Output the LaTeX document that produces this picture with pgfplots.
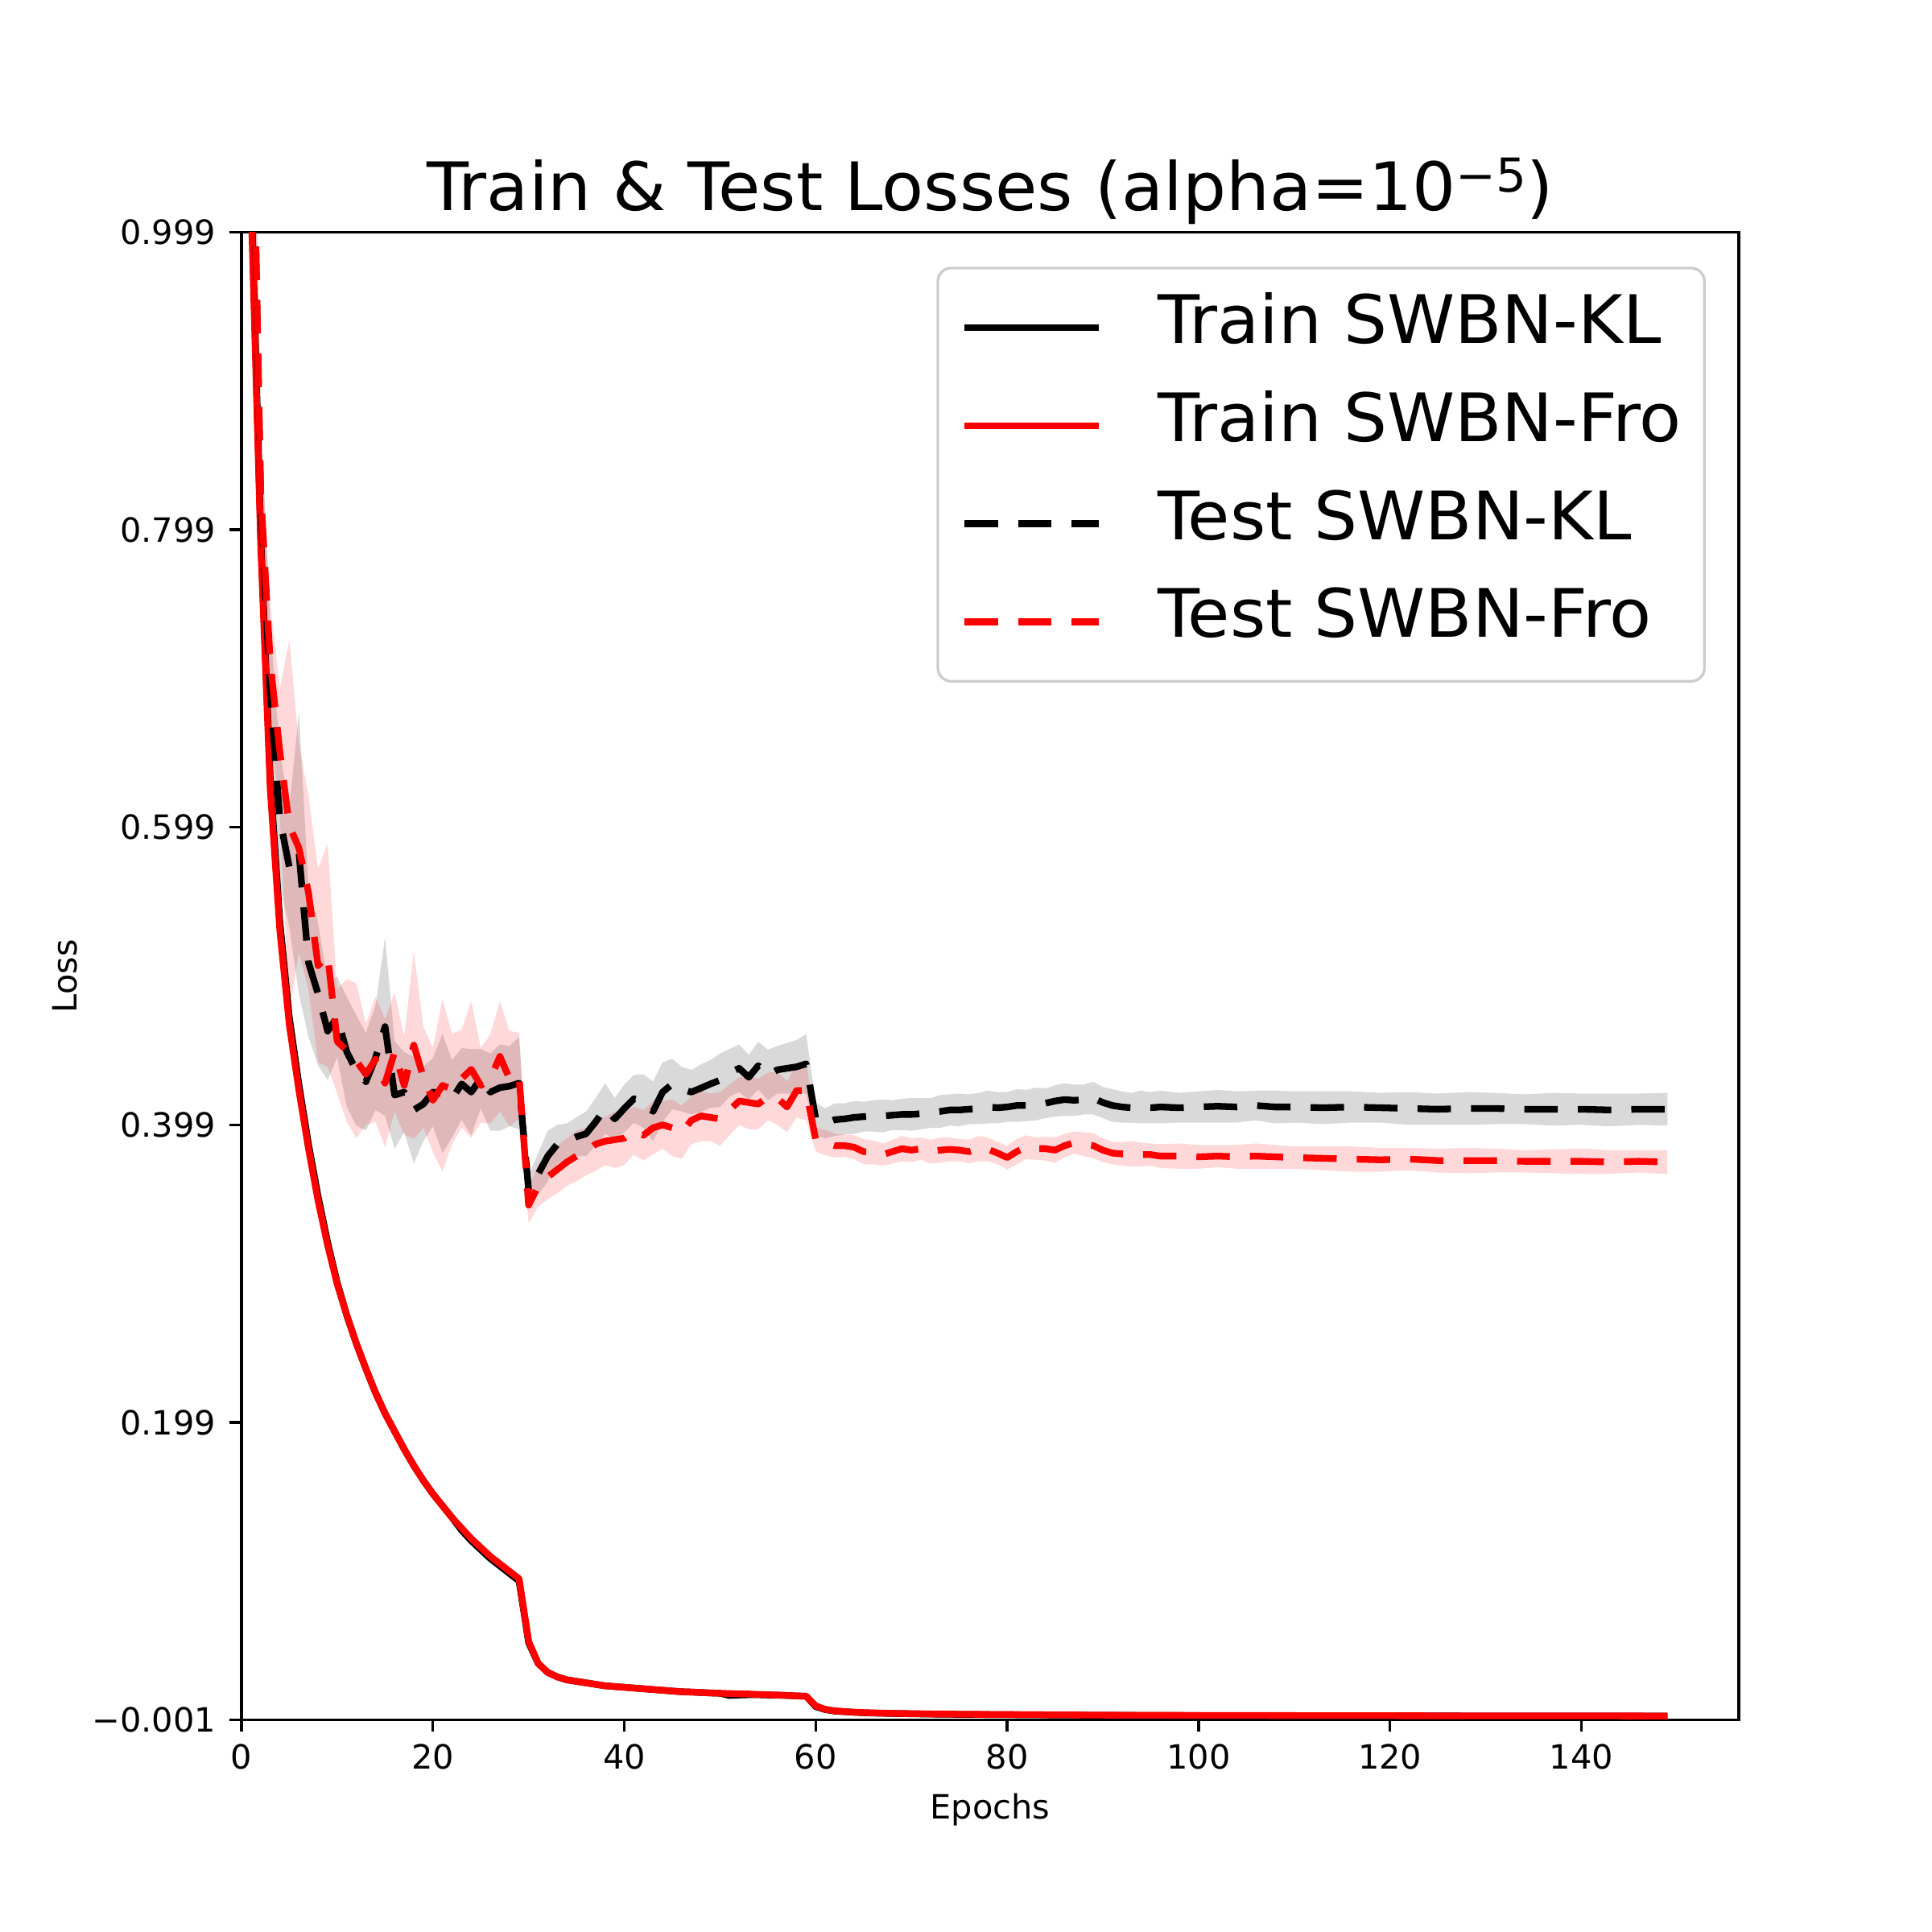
\documentclass[border=0pt]{standalone}
\usepackage{fontspec}
\setmainfont[FakeStretch=1.025]{DejaVu Sans}
\newfontfamily\tickfont{DejaVu Sans}
\usepackage{pgfplots}
\pgfplotsset{compat=1.18}
\usepackage{pgfplotstable}
\usepgfplotslibrary{fillbetween}
\definecolor{lgray}{RGB}{204,204,204}

\pgfplotstableread{
x y
0 1.60
1 1.02
2 0.79
3 0.625
4 0.53
5 0.466
6 0.422
7 0.383
8 0.348
9 0.318
10 0.292
11 0.271
12 0.252
13 0.235
14 0.219
15 0.205
16 0.193
17 0.181
18 0.170
19 0.160
20 0.151
21 0.143
22 0.135
23 0.128
24 0.121
25 0.115
26 0.109
27 0.104
28 0.099
29 0.094
30 0.052
31 0.037
32 0.031
33 0.028
34 0.026
35 0.025
36 0.024
37 0.023
38 0.022
39 0.0215
40 0.021
41 0.0205
42 0.020
43 0.0195
44 0.019
45 0.0185
46 0.018
47 0.0178
48 0.0175
49 0.0172
50 0.017
51 0.0168
52 0.0166
53 0.0165
54 0.0162
55 0.016
56 0.0158
57 0.0155
58 0.0152
59 0.015
60 0.0085
61 0.0062
62 0.0052
63 0.0047
64 0.0043
65 0.004
66 0.0038
68 0.0035
70 0.0033
72 0.0031
75 0.0029
80 0.0027
85 0.0025
90 0.0023
100 0.0021
110 0.002
120 0.0019
130 0.0018
140 0.0018
149 0.0017
}\trainfro

\pgfplotstableread{
x y
0 1.60
1 1.03
2 0.797
3 0.632
4 0.536
5 0.471
6 0.426
7 0.386
8 0.351
9 0.320
10 0.293
11 0.271
12 0.252
13 0.235
14 0.219
15 0.205
16 0.193
17 0.181
18 0.170
19 0.160
20 0.151
21 0.143
22 0.135
23 0.1265
24 0.1195
25 0.1135
26 0.1075
27 0.1025
28 0.0975
29 0.0925
30 0.051
31 0.037
32 0.031
33 0.028
34 0.026
35 0.025
36 0.024
37 0.023
38 0.022
39 0.0215
40 0.021
41 0.0205
42 0.020
43 0.0195
44 0.019
45 0.0185
46 0.018
47 0.0178
48 0.0175
49 0.0172
50 0.017
51 0.0155
52 0.0158
53 0.0160
54 0.0160
55 0.0158
56 0.0157
57 0.0155
58 0.0152
59 0.015
60 0.0080
61 0.0060
62 0.0050
63 0.0046
64 0.0042
65 0.0039
66 0.0037
68 0.0034
70 0.0032
72 0.0030
75 0.0028
80 0.0026
85 0.0024
90 0.0022
100 0.0020
110 0.0019
120 0.0018
130 0.0017
140 0.0017
149 0.0016
}\trainkl

\pgfplotstableread{
x m s
0 1.60 0.08
1 1.15 0.06
2 0.82 0.06
3 0.69 0.045
4 0.605 0.045
5 0.572 0.04
6 0.582 0.095
7 0.508 0.05
8 0.487 0.048
9 0.462 0.033
10 0.4715 0.027
11 0.448 0.037
12 0.4355 0.037
13 0.428 0.033
14 0.444 0.035
15 0.465 0.06
16 0.419 0.036
17 0.421 0.027
18 0.409 0.036
19 0.413 0.025
20 0.421 0.023
21 0.420 0.04
22 0.4165 0.026
23 0.4265 0.024
24 0.421 0.029
25 0.430 0.02
26 0.421 0.026
27 0.424 0.029
28 0.425 0.027
29 0.427 0.031
30 0.355 0.010
31 0.366 0.014
32 0.378 0.017
33 0.386 0.013
34 0.388 0.012
35 0.391 0.013
36 0.393 0.015
37 0.401 0.016
38 0.410 0.017
39 0.403 0.014
40 0.410 0.016
41 0.4165 0.016
42 0.415 0.018
43 0.408 0.020
44 0.421 0.020
45 0.4264 0.017
46 0.423 0.015
47 0.421 0.015
48 0.4237 0.016
49 0.4265 0.016
50 0.429 0.018
51 0.434 0.016
52 0.437 0.016
53 0.431 0.015
54 0.4388 0.016
55 0.4325 0.017
56 0.436 0.016
57 0.437 0.017
58 0.438 0.018
59 0.440 0.020
60 0.403 0.011
61 0.400 0.010
62 0.4025 0.011
63 0.403 0.0105
64 0.404 0.011
65 0.4045 0.010
66 0.405 0.0105
67 0.405 0.011
68 0.4055 0.010
69 0.406 0.0105
70 0.406 0.011
71 0.4065 0.0105
72 0.407 0.010
73 0.408 0.011
74 0.409 0.0105
75 0.409 0.011
76 0.4095 0.010
77 0.410 0.0105
78 0.411 0.011
79 0.4105 0.0105
80 0.411 0.010
81 0.412 0.011
82 0.412 0.0105
83 0.413 0.011
84 0.4135 0.010
85 0.415 0.0105
86 0.416 0.011
87 0.4155 0.0105
88 0.416 0.010
89 0.417 0.011
90 0.414 0.0105
91 0.412 0.011
92 0.411 0.0105
93 0.4105 0.010
94 0.411 0.011
95 0.4105 0.0105
96 0.411 0.011
98 0.4105 0.010
100 0.411 0.0105
102 0.4115 0.011
104 0.411 0.0105
106 0.412 0.010
108 0.411 0.011
110 0.411 0.0105
113 0.4105 0.011
116 0.411 0.0105
119 0.4105 0.010
122 0.410 0.011
125 0.4095 0.0105
128 0.410 0.011
131 0.410 0.0105
134 0.4095 0.010
137 0.4095 0.011
140 0.4095 0.0105
143 0.409 0.011
146 0.4095 0.0105
149 0.4095 0.011
}\testkl

\pgfplotstableread{
x m s
0 1.60 0.08
1 1.16 0.05
2 0.825 0.04
3 0.71 0.04
4 0.65 0.042
5 0.60 0.125
6 0.585 0.07
7 0.555 0.065
8 0.506 0.065
9 0.513 0.075
10 0.455 0.035
11 0.449 0.048
12 0.442 0.052
13 0.433 0.034
14 0.443 0.042
15 0.427 0.043
16 0.448 0.040
17 0.4255 0.033
18 0.4526 0.063
19 0.431 0.034
20 0.4156 0.035
21 0.4255 0.058
22 0.423 0.037
23 0.430 0.033
24 0.4363 0.046
25 0.4255 0.025
26 0.430 0.030
27 0.445 0.037
28 0.430 0.032
29 0.432 0.029
30 0.345 0.012
31 0.358 0.014
32 0.364 0.015
33 0.369 0.016
34 0.374 0.016
35 0.378 0.017
36 0.381 0.016
37 0.386 0.018
38 0.388 0.016
39 0.389 0.019
40 0.390 0.018
41 0.395 0.016
42 0.392 0.017
43 0.397 0.018
44 0.399 0.016
45 0.397 0.019
46 0.394 0.018
47 0.402 0.016
48 0.405 0.017
49 0.404 0.016
50 0.403 0.018
51 0.409 0.017
52 0.415 0.016
53 0.414 0.018
54 0.413 0.017
55 0.418 0.016
56 0.417 0.018
57 0.411 0.017
58 0.422 0.018
59 0.422 0.020
60 0.389 0.008
61 0.387 0.0085
62 0.385 0.008
63 0.385 0.0075
64 0.384 0.008
65 0.381 0.0085
66 0.3805 0.008
67 0.379 0.0075
68 0.381 0.008
69 0.383 0.0085
70 0.382 0.008
71 0.383 0.0075
72 0.381 0.008
73 0.382 0.0085
74 0.3825 0.008
75 0.382 0.0075
76 0.381 0.008
77 0.383 0.0085
78 0.3825 0.008
79 0.380 0.0075
80 0.377 0.008
81 0.381 0.0085
82 0.384 0.008
83 0.383 0.0075
84 0.383 0.008
85 0.382 0.0085
86 0.385 0.008
87 0.387 0.0075
88 0.386 0.008
89 0.385 0.0085
90 0.382 0.008
91 0.380 0.0075
92 0.3795 0.008
93 0.3795 0.0085
94 0.379 0.008
95 0.379 0.0075
96 0.378 0.008
98 0.378 0.0085
100 0.3775 0.008
102 0.378 0.0075
104 0.3775 0.008
106 0.378 0.0085
108 0.3775 0.008
110 0.377 0.0075
113 0.3765 0.008
116 0.376 0.0085
119 0.3755 0.008
122 0.376 0.0075
125 0.375 0.008
128 0.375 0.0085
131 0.375 0.008
134 0.3745 0.0075
137 0.3745 0.008
140 0.3745 0.0085
143 0.374 0.008
146 0.3745 0.0075
149 0.374 0.008
}\testfro

\begin{document}
\begin{tikzpicture}
\begin{axis}[
  at={(72.27pt,63.43pt)}, anchor=south west,
  width=448.07pt, height=445.28pt, scale only axis,
  xmin=0, xmax=156.45, ymin=-0.001, ymax=0.999,
  xtick={0,20,40,60,80,100,120,140},
  xticklabels={\mbox{0},\mbox{20},\mbox{40},\mbox{60},\mbox{80},\mbox{100},\mbox{120},\mbox{140}},
  ytick={-0.001,0.199,0.399,0.599,0.799,0.999},
  yticklabels={\mbox{−0.001},\mbox{0.199},\mbox{0.399},\mbox{0.599},\mbox{0.799},\mbox{0.999}},
  tick pos=left,
  tick align=outside, major tick length=3.5pt,
  every tick/.style={black, line width=0.8pt},
  axis line style={line width=0.8pt},
  ticklabel style={font=\tickfont\fontsize{10}{12}\selectfont},
  xticklabel style={inner sep=0pt, yshift=-3.5pt},
  yticklabel style={inner sep=0pt, xshift=-4pt},
  title={Train \& Test Losses (alpha=10\raisebox{5.5pt}{\fontsize{14}{16}\selectfont −5})},
  title style={at={(axis description cs:0.5,1)}, anchor=base, yshift=0.5pt, inner sep=0pt, font=\fontsize{20}{24}\selectfont},
  xlabel={Epochs}, ylabel={Loss},
  xlabel style={at={(axis description cs:0.5,-0.0489)}, anchor=north, inner sep=0pt, font=\tickfont\fontsize{10}{12}\selectfont},
  ylabel style={at={(axis description cs:-0.1091,0.5)}, anchor=south, inner sep=0pt, font=\tickfont\fontsize{10}{12}\selectfont},
  legend cell align=left,
  legend style={
    at={(axis description cs:1,1)}, anchor=north east, xshift=-9.88pt, yshift=-10.36pt,
    draw=lgray, line width=0.8pt, rounded corners=4pt,
    fill=white, fill opacity=0.8, text opacity=1, draw opacity=1,
    font=\fontsize{20}{24}\selectfont,
    inner xsep=7pt, inner ysep=6pt,
    row sep=5.76pt,
    nodes={inner sep=0pt, text height=16.5pt, text depth=7.1pt},
    /tikz/every odd column/.append style={column sep=16.6pt},
  },
  legend image code/.code={\draw[#1] (0pt,0pt) -- (40.2pt,0pt);},
]
% bands
\addplot[draw=none, name path=klhi, forget plot] table[x=x, y expr=\thisrow{m}+\thisrow{s}] {\testkl};
\addplot[draw=none, name path=kllo, forget plot] table[x=x, y expr=\thisrow{m}-\thisrow{s}] {\testkl};
\addplot[fill=black, fill opacity=0.15, draw=none, forget plot] fill between[of=klhi and kllo];
\addplot[draw=none, name path=frhi, forget plot] table[x=x, y expr=\thisrow{m}+\thisrow{s}] {\testfro};
\addplot[draw=none, name path=frlo, forget plot] table[x=x, y expr=\thisrow{m}-\thisrow{s}] {\testfro};
\addplot[fill=red, fill opacity=0.15, draw=none, forget plot] fill between[of=frhi and frlo];
% lines
\addplot[black, line width=2pt, line join=round] table[x=x, y=y] {\trainkl};
\addlegendentry{Train SWBN-KL}
\addplot[red, line width=2pt, line join=round] table[x=x, y=y] {\trainfro};
\addlegendentry{Train SWBN-Fro}
\addplot[black, line width=2pt, line join=round, dash pattern=on 10pt off 6pt] table[x=x, y=m] {\testkl};
\addlegendentry{Test SWBN-KL}
\addplot[red, line width=2pt, line join=round, dash pattern=on 10pt off 6pt] table[x=x, y=m] {\testfro};
\addlegendentry{Test SWBN-Fro}
\end{axis}
\pgfresetboundingbox
\path (0,0) rectangle (578.16pt,578.16pt);
\end{tikzpicture}
\end{document}
